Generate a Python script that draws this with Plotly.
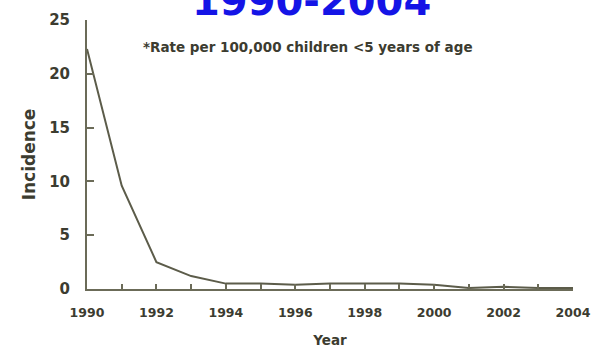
import plotly.graph_objects as go

# Incidence per 100,000 children under 5 years of age
years = [1990, 1991, 1992, 1993, 1994, 1995, 1996, 1997, 1998, 1999, 2000, 2001, 2002, 2003, 2004]
incidence = [22.3, 9.6, 2.5, 1.2, 0.5, 0.5, 0.4, 0.5, 0.5, 0.5, 0.4, 0.1, 0.2, 0.1, 0.1]

x_ticks = [1990, 1992, 1994, 1996, 1998, 2000, 2002, 2004]
y_ticks = [0, 5, 10, 15, 20, 25]

axis_col = "#6b6b58"
text_col = "#3c3c30"
font_main = "DejaVu Sans, Verdana, sans-serif"

fig = go.Figure()
fig.add_trace(go.Scatter(
    x=years, y=incidence, mode="lines",
    line=dict(color="#5c5c4a", width=2),
    showlegend=False,
))

fig.update_layout(
    width=593, height=348,
    margin=dict(l=87, r=20, t=20, b=59),
    paper_bgcolor="white", plot_bgcolor="white",
    font=dict(family=font_main, color=text_col, size=13),
    xaxis=dict(
        range=[1990, 2004], tickvals=x_ticks, ticktext=[str(v) for v in x_ticks],
        showgrid=False, zeroline=False, showline=True, linecolor=axis_col, linewidth=2,
        ticks="inside", ticklen=5, tickwidth=1.5, tickcolor=axis_col,
        minor=dict(dtick=1, tick0=1990, ticks="inside", ticklen=5, tickwidth=1.5, tickcolor=axis_col),
        tickfont=dict(family=font_main, size=12.5, color=text_col, weight="bold"),
        ticklabelstandoff=11, automargin=False,
        title=dict(text="<b>Year</b>", font=dict(family=font_main, size=13.5, color=text_col), standoff=18),
    ),
    yaxis=dict(
        range=[0, 25], tickvals=y_ticks,
        showgrid=False, zeroline=False, showline=True, linecolor=axis_col, linewidth=2,
        ticks="inside", ticklen=7, tickwidth=1.5, tickcolor=axis_col,
        tickfont=dict(family=font_main, size=15, color=text_col, weight="bold"),
        ticklabelstandoff=12, automargin=False,
        title=dict(text="<b>Incidence</b>", font=dict(family=font_main, size=17, color=text_col), standoff=9),
    ),
    annotations=[
        dict(text="<b>1990-2004</b>", xref="paper", yref="paper", x=0.462, y=1.0,
             yanchor="bottom", xanchor="center", showarrow=False, yshift=-6,
             font=dict(family=font_main, size=40, color="#1414e6")),
        dict(text="<b>*Rate per 100,000 children <5 years of age</b>", xref="paper", yref="paper",
             x=0.455, y=0.9, xanchor="center", yanchor="middle", showarrow=False,
             font=dict(family=font_main, size=13.5, color=text_col)),
    ],
)

fig.write_html("out.html")
